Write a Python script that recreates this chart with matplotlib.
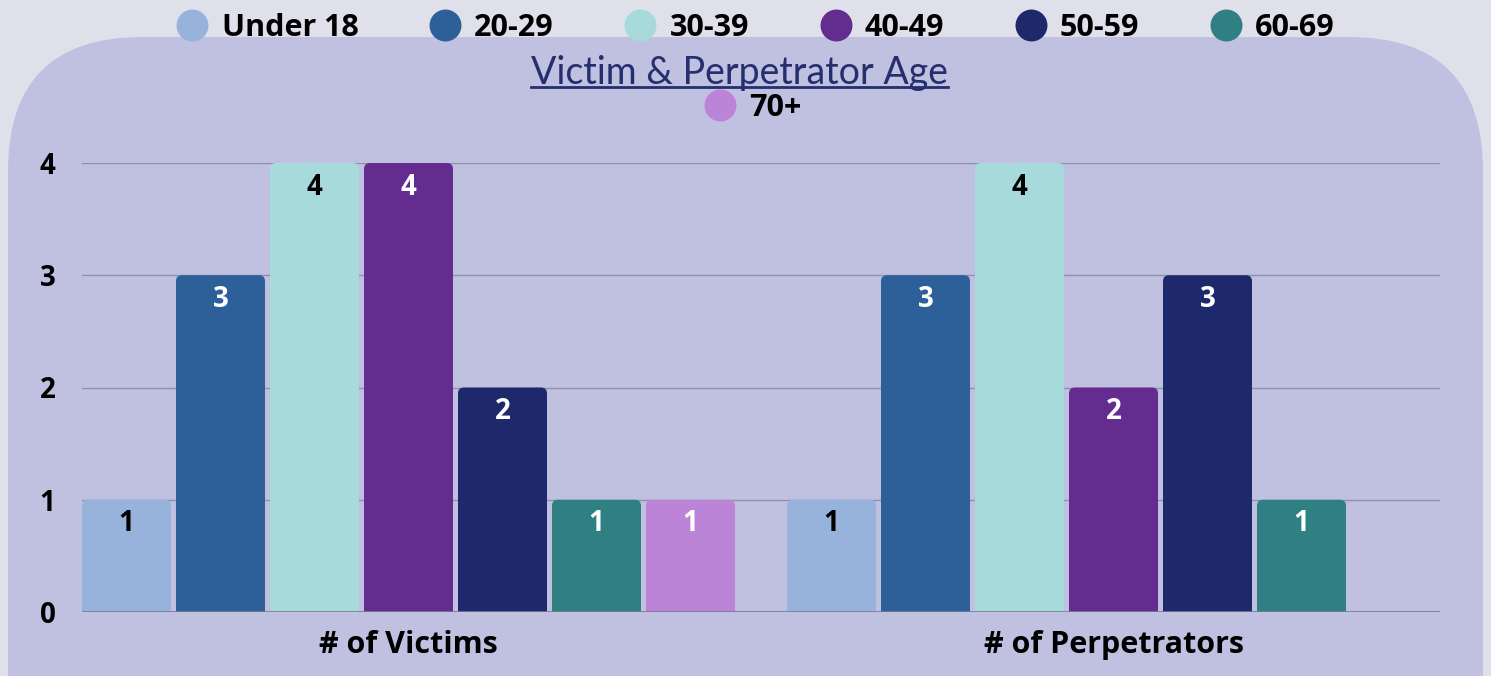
import matplotlib
matplotlib.use('Agg')
import matplotlib.pyplot as plt
from matplotlib.patches import FancyBboxPatch
from matplotlib.lines import Line2D
import numpy as np

groups = ['# of Victims', '# of Perpetrators']
ages = ['Under 18', '20-29', '30-39', '40-49', '50-59', '60-69', '70+']
victims = [1, 3, 4, 4, 2, 1, 1]
perpetrators = [1, 3, 4, 2, 3, 1, 0]
colors = ['#97b3dc', '#2d5f98', '#a7dadb', '#652c90', '#1e296b', '#2e8082', '#bb84d6']
label_colors = ['black', 'white', 'black', 'white', 'white', 'white', 'white']
y_ticks = [0, 1, 2, 3, 4]

plt.rcParams['font.family'] = ['Open Sans', 'DejaVu Sans']

fig = plt.figure(figsize=(14.91, 6.76), dpi=100)
fig.patch.set_facecolor('#dfe0ea')

# panel with rounded corners
panel = FancyBboxPatch((8 / 1491, -0.2), 1475 / 1491, (676 - 37) / 676 + 0.2,
                       boxstyle='round,pad=0,rounding_size=0.09',
                       transform=fig.transFigure, facecolor='#c0c0e0',
                       edgecolor='none', zorder=-5,
                       mutation_aspect=1491 / 676)
fig.patches.append(panel)

ax = fig.add_axes([82 / 1491, 1 - 612 / 676, (1440 - 82) / 1491, (612 - 163) / 676])
ax.set_facecolor('none')
ax.set_zorder(2)

n = len(ages)
pitch = 94 / 705
w = 89 / 705
x = np.arange(len(groups))
xmin, xmax = -0.4631, 1.4631
ymin, ymax = 0, 4
ax.set_xlim(xmin, xmax)
ax.set_ylim(ymin, ymax)
# pixels per data unit, used to keep the rounded corners circular
px_x = 1358 / (xmax - xmin)
px_y = 449 / (ymax - ymin)
rad = 6 / px_x
for i in range(n):
    vals = [victims[i], perpetrators[i]]
    pos = x - pitch * (n - 1) / 2 + i * pitch
    bars = ax.bar(pos, vals, width=w, color=colors[i], zorder=3)
    for b in bars:
        b.set_visible(False)
        if b.get_height() <= 0:
            continue
        ax.add_patch(FancyBboxPatch((b.get_x(), -0.2), b.get_width(), b.get_height() + 0.2,
                                    boxstyle='round,pad=0,rounding_size=%f' % rad,
                                    mutation_aspect=px_x / px_y,
                                    facecolor=colors[i], edgecolor='none', zorder=3))
    for p, v in zip(pos, vals):
        if v > 0:
            ax.text(p, v - 0.215, str(v), ha='center', va='center',
                    color=label_colors[i], fontsize=20, fontweight='bold', zorder=4)

ax.set_yticks(y_ticks)
ax.set_yticklabels([str(t) for t in y_ticks], fontsize=20, fontweight='bold')
ax.set_xticks(x)
ax.set_xticklabels(groups, fontsize=22, fontweight='bold')
ax.tick_params(axis='both', length=0)
ax.tick_params(axis='y', pad=19)
ax.tick_params(axis='x', pad=13)
ax.grid(axis='y', color='#8f90aa', linewidth=1, zorder=1)
for s in ax.spines.values():
    s.set_visible(False)
ax.axhline(0, color='#7a7b95', linewidth=1.2, zorder=4)

# legend
handles = [Line2D([], [], marker='o', linestyle='none', markersize=23,
                  markerfacecolor=c, markeredgecolor='none') for c in colors]
leg1 = fig.legend(handles[:6], ages[:6], loc='center', bbox_to_anchor=(0.507, 1 - 28 / 676),
                  ncol=6, frameon=False, prop={'size': 22, 'weight': 'bold'},
                  handletextpad=0.45, columnspacing=2.34, handlelength=1.0)
leg2 = fig.legend(handles[6:], ages[6:], loc='center', bbox_to_anchor=(0.505, 1 - 108 / 676),
                  ncol=1, frameon=False, prop={'size': 22, 'weight': 'bold'},
                  handletextpad=0.45, handlelength=1.0)

# title with underline
title = fig.text(0.4957, 1 - 73 / 676, 'Victim & Perpetrator Age', ha='center', va='center',
                 fontsize=27, color='#252f6e', family=['Lato', 'DejaVu Sans'])
fig.canvas.draw()
bb = title.get_window_extent().transformed(fig.transFigure.inverted())
fig.add_artist(Line2D([bb.x0, bb.x1], [bb.y0 + 0.006, bb.y0 + 0.006],
                      transform=fig.transFigure, color='#252f6e', linewidth=2))

fig.savefig('out.png', dpi=100, facecolor=fig.get_facecolor())
